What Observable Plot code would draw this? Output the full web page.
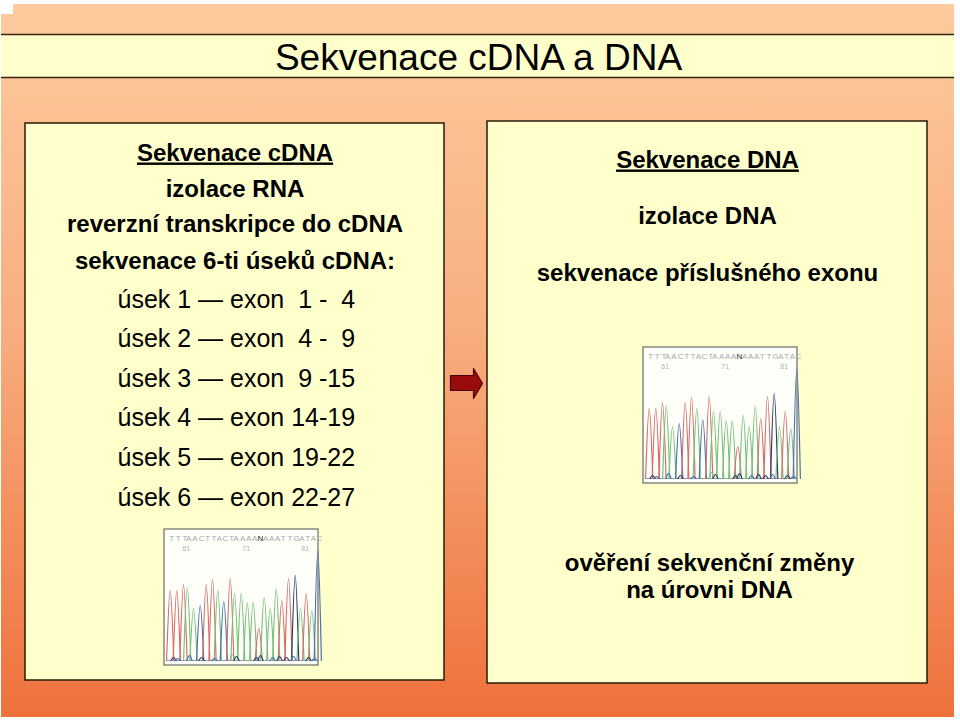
<!DOCTYPE html>
<html><head><meta charset="utf-8">
<script src="https://cdn.jsdelivr.net/npm/d3@7"></script>
<script src="https://cdn.jsdelivr.net/npm/@observablehq/plot@0.6"></script>
<style>body{margin:0;background:#fff;} #chart svg{display:block;}</style>
</head><body><div id="chart"></div>
<script>
// ---------- content ----------
const slideTitle = "Sekvenace cDNA a DNA";
const cdnaHeading = "Sekvenace cDNA";
const cdnaSteps = ["izolace RNA", "reverzní transkripce do cDNA", "sekvenace 6-ti úseků cDNA:"];
const segments = ["úsek 1", "úsek 2", "úsek 3", "úsek 4", "úsek 5", "úsek 6"];
const exonRanges = [" 1 -  4", " 4 -  9", " 9 -15", "14-19", "19-22", "22-27"];
const dnaHeading = "Sekvenace DNA";
const dnaSteps = ["izolace DNA", "sekvenace příslušného exonu"];
const dnaConclusion = ["ověření sekvenční změny", "na úrovni DNA"];

// chromatogram (same trace shown twice)
const baseCalls = "TTTAACTTACTAAAANAAATTGATAC".split("");
const peakDye   = "TTTAACTTACTAAAATAAATTGATAC".split("");
const peakScan  = [1.7, 8.3, 15, 18.7, 25, 31.7, 37.7, 44, 49.3, 55.3, 61.7, 66, 72.7, 78.7, 84.7, 90.3, 95.7, 101.7, 107.7, 113.3, 120, 126.7, 132, 137.7, 143.3, 149.3];
const peakSignal = [70, 70, 76, 73, 52, 55, 76, 81, 70, 59, 82, 67, 67, 58, 58, 32, 63, 52, 72, 60, 82, 85, 52, 67, 50, 110];
const baseTicks = [61, 71, 81];
const firstBaseNumber = 58;
const noiseScan   = [5, 9, 21, 33, 46, 64, 68, 88, 92, 104, 111, 118, 125, 140, 146];
const noiseSignal = [3, 2, 5, 3, 2, 6, 4, 3, 5, 3, 4, 3, 4, 3, 2];
const noiseDye    = ["G","C","C","G","C","A","G","G","G","C","G","G","C","G","C"];

// ---------- styles & layout ----------
const FONT = "'Liberation Sans', Arial, Helvetica, sans-serif";
const dyeColor = {A: "#78c078", C: "#4a6fb3", G: "#2e3b6b", T: "#d66c6a"};
const boxFill = "#FFFFCC", boxStroke = "#2a1a0a";
const leftBox = {x1: 25, x2: 444, y1: 123, y2: 680};
const rightBox = {x1: 487, x2: 927, y1: 121, y2: 683};
const chromFrames = [{x1: 164, x2: 318, y1: 529, y2: 665}, {x1: 643, x2: 797, y1: 347, y2: 483}];

const nb = s => s.replace(/ /g, "\u00A0");

// peak glyph points (base, apex, base) per peak
const peakRows = [];
chromFrames.forEach((f, fi) => {
  const ox = f.x1 + 4, base = f.y2 - 5;
  const addPeak = (id, s, h, dye, hw) => {
    [[-hw, 0], [0, h], [hw, 0]].forEach(([dx, dh]) =>
      peakRows.push({id: fi + "-" + id, x: ox + s + dx, y: base - dh, dye}));
  };
  peakScan.forEach((s, i) => addPeak("p" + i, s, peakSignal[i], peakDye[i], 3.6));
  noiseScan.forEach((s, i) => addPeak("n" + i, s, noiseSignal[i], noiseDye[i], 2.6));
});
const letterRows = [];
const tickRows = [];
chromFrames.forEach(f => {
  const ox = f.x1 + 4;
  baseCalls.forEach((b, i) => letterRows.push({x: ox + peakScan[i] + 1.5, y: f.y1 + 9, b}));
  baseTicks.forEach(n => tickRows.push({x: ox + peakScan[n - firstBaseNumber] - 1, y: f.y1 + 19, n}));
});
const baselineRows = chromFrames.map(f => ({x1: f.x1 + 2, x2: f.x2 - 2, y: f.y2 - 5}));

// arrow outline
const ax0 = 450, ax1 = 473, ax2 = 482, ay = 383;
const arrowPts = [[ax0, ay - 8], [ax1, ay - 8], [ax1, ay - 15], [ax2, ay], [ax1, ay + 15], [ax1, ay + 7], [ax0, ay + 7], [ax0, ay - 8]]
  .map(([x, y]) => ({x, y}));

const leftCx = (leftBox.x1 + leftBox.x2) / 2;
const rightCx = 709;

const plot = Plot.plot({
  width: 960, height: 720, margin: 0,
  x: {domain: [0, 960], range: [0, 960], axis: null},
  y: {domain: [0, 720], range: [0, 720], axis: null},
  style: {background: "transparent", fontFamily: FONT},
  marks: [
    // slide background
    Plot.rect([{x1: 1, x2: 954, y1: 4, y2: 717}], {x1: "x1", x2: "x2", y1: "y1", y2: "y2", fill: "url(#slidebg)"}),
    Plot.rect([{x1: 0, x2: 13, y1: 0, y2: 14}], {x1: "x1", x2: "x2", y1: "y1", y2: "y2", fill: "#ffffff"}),
    // title band
    Plot.rect([{x1: 1, x2: 954, y1: 34, y2: 77}], {x1: "x1", x2: "x2", y1: "y1", y2: "y2", fill: boxFill}),
    Plot.ruleY([34, 77], {x1: 1, x2: 954, stroke: "#3a2410", strokeWidth: 1.6}),
    Plot.text([slideTitle], {x: 478, y: 69, text: d => d, fontSize: 37, textAnchor: "middle", lineAnchor: "bottom", fill: "#000"}),
    // boxes
    Plot.rect([leftBox, rightBox], {x1: "x1", x2: "x2", y1: "y1", y2: "y2", fill: boxFill, stroke: boxStroke, strokeWidth: 1.5}),
    // left box text
    Plot.text([cdnaHeading], {x: leftCx, y: 160, text: d => d, fontSize: 24, fontWeight: "bold", textAnchor: "middle", lineAnchor: "bottom"}),
    Plot.text(cdnaSteps, {x: leftCx, y: (d, i) => [196, 231, 268][i], text: d => d, fontSize: 24, fontWeight: "bold", textAnchor: "middle", lineAnchor: "bottom"}),
    Plot.text(segments, {x: 117, y: (d, i) => 307 + i * 39.6, text: (d, i) => nb(d + " — exon " + exonRanges[i]), fontSize: 25, textAnchor: "start", lineAnchor: "bottom"}),
    // right box text
    Plot.text([dnaHeading], {x: rightCx - 2, y: 167, text: d => d, fontSize: 24, fontWeight: "bold", textAnchor: "middle", lineAnchor: "bottom"}),
    Plot.text(dnaSteps, {x: rightCx - 2, y: (d, i) => [223, 280][i], text: d => d, fontSize: 24, fontWeight: "bold", textAnchor: "middle", lineAnchor: "bottom"}),
    Plot.text(dnaConclusion, {x: rightCx, y: (d, i) => [570, 597][i], text: d => d, fontSize: 24, fontWeight: "bold", textAnchor: "middle", lineAnchor: "bottom"}),
    // arrow
    Plot.line(arrowPts, {x: "x", y: "y", fill: "#980c0c", stroke: "#4a0000", strokeWidth: 1.2, curve: "linear"}),
    // chromatograms
    Plot.rect(chromFrames, {x1: "x1", x2: "x2", y1: "y1", y2: "y2", fill: "#fffffa", stroke: "#6a6a6a", strokeWidth: 1.2}),
    Plot.ruleY(baselineRows, {x1: "x1", x2: "x2", y: "y", stroke: "#8080a0", strokeWidth: 0.8}),
    Plot.line(peakRows, {x: "x", y: "y", z: "id", stroke: d => dyeColor[d.dye], strokeWidth: 1.2, curve: "catmull-rom"}),
    Plot.text(letterRows, {x: "x", y: "y", text: "b", fontSize: 8, fill: d => d.b === "N" ? "#222" : "#a8a8a8", fontWeight: d => d.b === "N" ? "bold" : "normal", textAnchor: "middle"}),
    Plot.text(tickRows, {x: "x", y: "y", text: "n", fontSize: 7, fill: "#b0b0b0", textAnchor: "middle"})
  ]
});

// gradient definition for the slide background, and underlined headings
const svgSel = d3.select(plot);
const defs = svgSel.insert("defs", ":first-child");
const grad = defs.append("linearGradient").attr("id", "slidebg").attr("x1", 0).attr("y1", 0).attr("x2", 0).attr("y2", 1);
grad.append("stop").attr("offset", "0%").attr("stop-color", "#FDCB9E");
grad.append("stop").attr("offset", "45%").attr("stop-color", "#F8AE7F");
grad.append("stop").attr("offset", "100%").attr("stop-color", "#EE713C");
svgSel.selectAll("text")
  .filter(function () { return this.textContent === cdnaHeading || this.textContent === dnaHeading; })
  .style("text-decoration", "underline");

document.getElementById("chart").append(plot);
</script>
</body></html>
